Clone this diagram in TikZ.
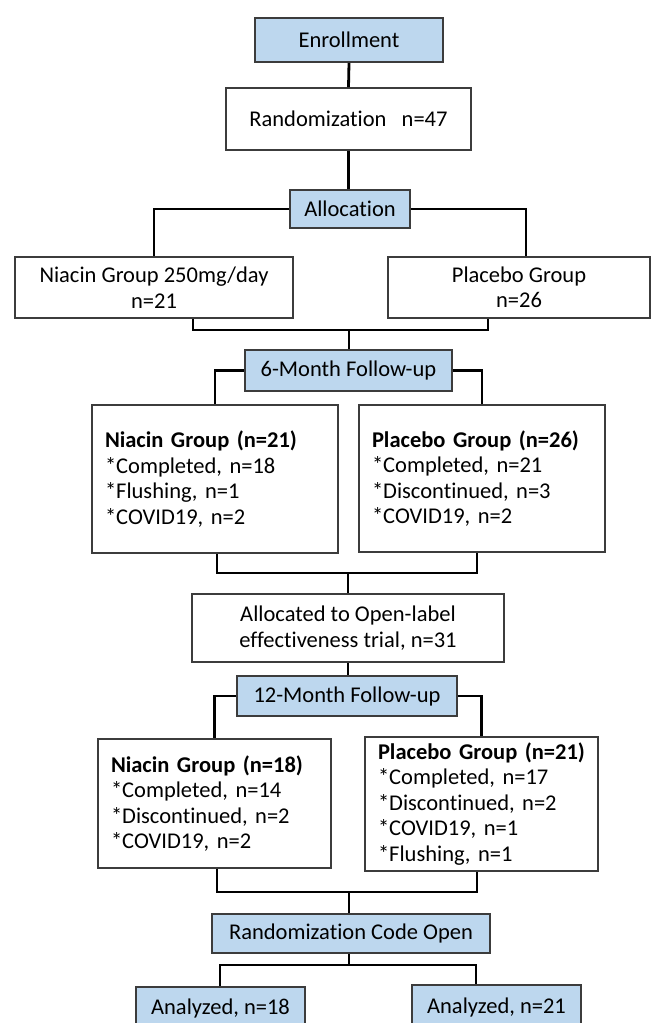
\documentclass[tikz,border=0pt]{standalone}
\usepackage{fontspec}
\setmainfont[Ligatures=NoCommon]{Carlito}
\definecolor{boxblue}{RGB}{189,215,238}
\definecolor{boxline}{RGB}{60,60,60}
\begin{document}
\frenchspacing
\begin{tikzpicture}[x=1pt,y=-1pt,
  base/.style={draw=boxline, line width=1.6pt, inner sep=0pt, font=\fontsize{22.5}{25.5}\selectfont\frenchspacing, align=center},
  bluebox/.style={base, fill=boxblue},
  whitebox/.style={base, fill=white},
  listbox/.style={base, fill=white, align=left, inner xsep=13pt},
  conn/.style={line width=2.8pt, black}
]
\clip (0,0) rectangle (654,1023);
\useasboundingbox (0,0) rectangle (654,1023);
\fill[white] (0,0) rectangle (654,1023);

% nodes
\node[bluebox, minimum width=188pt, minimum height=44pt] (enroll) at (349,40) {Enrollment};
\node[whitebox, minimum width=245pt, minimum height=62pt] (rand) at (348.5,119) {Randomization\ \ \ n=47};
\node[bluebox, minimum width=120pt, minimum height=38pt] (alloc) at (350,209) {Allocation};
\node[whitebox, minimum width=278pt, minimum height=61pt] (niac1) at (154,287.5) {Niacin Group 250mg/day\\n=21};
\node[whitebox, minimum width=262pt, minimum height=61pt] (plac1) at (519,287.5) {Placebo Group\\n=26};
\node[bluebox, minimum width=207pt, minimum height=41pt] (fu6) at (348.5,370.5) {6-Month Follow-up};
\node[listbox, text width=220pt, minimum height=148pt] (niac2) at (215,479)
  {\textbf{Niacin Group (n=21)}\\{}*Completed, n=18\\{}*Flushing, n=1\\{}*COVID19, n=2};
\node[listbox, text width=220pt, minimum height=147pt] (plac2) at (482,478.5)
  {\textbf{Placebo Group (n=26)}\\{}*Completed, n=21\\{}*Discontinued, n=3\\{}*COVID19, n=2};
\node[whitebox, minimum width=312pt, minimum height=68pt] (openlbl) at (348,628) {Allocated to Open-label\\effectiveness trial, n=31};
\node[bluebox, minimum width=220pt, minimum height=40pt] (fu12) at (347,696) {12-Month Follow-up};
\node[listbox, text width=207pt, minimum height=129pt] (niac3) at (214.5,803.5)
  {\textbf{Niacin Group (n=18)}\\{}*Completed, n=14\\{}*Discontinued, n=2\\{}*COVID19, n=2};
\node[listbox, text width=207pt, minimum height=134pt] (plac3) at (481.5,804)
  {\textbf{Placebo Group (n=21)}\\{}*Completed, n=17\\{}*Discontinued, n=2\\{}*COVID19, n=1\\{}*Flushing, n=1};
\node[bluebox, minimum width=278pt, minimum height=39pt] (code) at (351,933.5) {Randomization Code Open};
\node[bluebox, minimum width=169pt, minimum height=42pt] (an1) at (220.5,1008) {Analyzed, n=18};
\node[bluebox, minimum width=169pt, minimum height=44pt] (an2) at (496.5,1007) {Analyzed, n=21};

% junction coordinates
\coordinate (j1a) at (526,209);
\coordinate (j2l) at (193,330);
\coordinate (j2r) at (488,330);
\coordinate (j2c) at (349,330);
\coordinate (j3l) at (217,573);
\coordinate (j3r) at (477,573);
\coordinate (j3c) at (348,573);
\coordinate (j4l) at (217,892);
\coordinate (j4r) at (477,892);
\coordinate (j4c) at (349,892);
\coordinate (j5c) at (349,965);
\coordinate (j5l) at (220,965);
\coordinate (j5r) at (476,965);

% connectors
\draw[conn] (enroll.south) -- (rand.north);
\draw[conn] (rand.south) -- (rand.south |- alloc.north);
\draw[conn] (alloc.west) -| (niac1.north);
\draw[conn] (alloc.east) -- (j1a) -- (j1a |- plac1.north);
\draw[conn] (j2l |- niac1.south) -- (j2l) -- (j2r) -- (j2r |- plac1.south);
\draw[conn] (j2c) -- (j2c |- fu6.north);
\draw[conn] (fu6.west) -| (niac2.north);
\draw[conn] (fu6.east) -| (plac2.north);
\draw[conn] (j3l |- niac2.south) -- (j3l) -- (j3r) -- (j3r |- plac2.south);
\draw[conn] (j3c) -- (j3c |- openlbl.north);
\draw[conn] (openlbl.south) -- (openlbl.south |- fu12.north);
\draw[conn] (fu12.west) -| (niac3.north);
\draw[conn] (fu12.east) -| (plac3.north);
\draw[conn] (j4l |- niac3.south) -- (j4l) -- (j4r) -- (j4r |- plac3.south);
\draw[conn] (j4c) -- (j4c |- code.north);
\draw[conn] (j4c |- code.south) -- (j5c);
\draw[conn] (j5l |- an1.north) -- (j5l) -- (j5r) -- (j5r |- an2.north);
\end{tikzpicture}
\end{document}
